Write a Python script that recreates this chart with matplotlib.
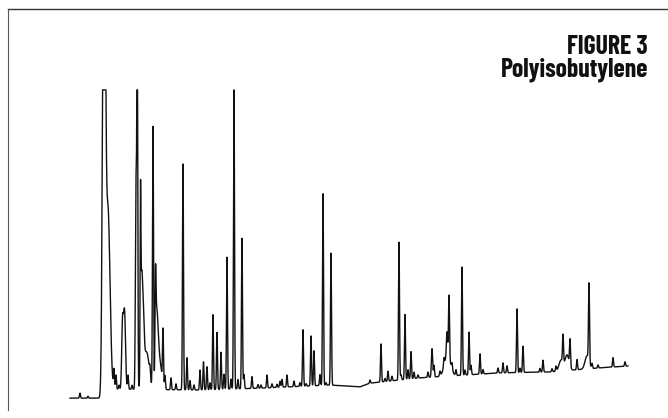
import matplotlib
matplotlib.use('Agg')
import matplotlib.pyplot as plt
from matplotlib.lines import Line2D
import numpy as np

# Peak table (retention time in min, height above baseline in % FS, width in min)
peak_time = [2.0, 2.8, 4.4, 4.8, 5.4, 5.6, 5.9, 6.25, 6.45, 6.8, 7.2, 7.6, 7.73, 8.05, 8.15, 8.3,
             8.5, 8.8, 9.0, 9.3, 9.55, 9.65, 9.8, 10.05, 10.3, 10.5, 11.1, 11.6, 12.3, 12.7, 13.0,
             13.4, 14.0, 14.35, 14.7, 15.0, 15.3, 15.7, 16.1, 16.4, 16.7, 17.1, 17.4, 17.8, 18.2,
             18.4, 19.2, 19.8, 20.1, 20.7, 21.2, 21.7, 22.0, 22.2, 22.7, 23.4, 24.0, 24.3, 24.6,
             25.1, 25.4, 26.0, 26.3, 26.6, 27.1, 31.0, 32.1, 32.5, 32.8, 33.2, 33.9, 34.1, 34.5,
             34.8, 35.1, 35.4, 35.8, 36.8, 37.2, 37.4, 38.0, 38.4, 38.75, 38.7, 38.9, 39.2, 39.6,
             40.2, 40.5, 40.9, 41.1, 42.0, 42.3, 43.8, 44.3, 44.7, 45.7, 46.0, 46.3, 48.0, 48.3,
             49.2, 49.6, 50.1, 50.3, 50.7, 51.0, 51.7, 52.7, 52.9, 53.2, 53.8, 55.3, 56.5]
peak_height = [1.6, 0.6, 200, 58, 6, 4.5, 1.3, 20, 25, 4.5, 1.3, 64, 110, 52, 26, 20,
               9, 6, 3, 84, 27, 18, 13, 7, 18, 4.5, 3.8, 1.9, 72.4, 10.3, 3,
               1.6, 6.4, 9, 7.4, 2.2, 24, 18.3, 11.9, 4.8, 42.3, 3.2, 97, 3, 48.2,
               4.5, 3.8, 1.2, 1.0, 4.1, 1.2, 1.0, 1.9, 2.5, 3.8, 1.8, 1.2, 18.1, 0.8,
               16, 11.2, 3.5, 61.4, 0.8, 42.3, 1.0, 12.2, 1.0, 3.2, 1.5, 44.2, 1.6, 20.8,
               3, 8.7, 2, 1, 1.7, 9.1, 3.7, 1.5, 2.6, 6.7, 7.6, 20, 2, 1.8,
               34.7, 1.6, 13.7, 3, 6.5, 1.4, 1.6, 3.2, 2.2, 20.4, 1.4, 8.4, 1.2, 3.8,
               1, 1.6, 3.5, 9, 5, 8.5, 3.3, 4.2, 25, 1.5, 1, 3, 1.4]
peak_width = [0.05, 0.05, 0.13, 0.2, 0.05, 0.05, 0.05, 0.08, 0.1, 0.05, 0.05, 0.06, 0.05, 0.04, 0.08, 0.1,
              0.25, 0.2, 0.05, 0.05, 0.05, 0.1, 0.12, 0.15, 0.05, 0.05, 0.05, 0.05, 0.05, 0.05, 0.05,
              0.05, 0.05, 0.05, 0.05, 0.05, 0.05, 0.05, 0.05, 0.05, 0.05, 0.05, 0.05, 0.05, 0.05,
              0.05, 0.05, 0.05, 0.05, 0.05, 0.05, 0.05, 0.05, 0.05, 0.05, 0.05, 0.05, 0.05, 0.05,
              0.05, 0.05, 0.05, 0.05, 0.05, 0.05, 0.05, 0.05, 0.05, 0.05, 0.05, 0.05, 0.05, 0.05,
              0.05, 0.05, 0.05, 0.05, 0.05, 0.06, 0.05, 0.05, 0.05, 0.3, 0.06, 0.05, 0.05, 0.05,
              0.05, 0.05, 0.05, 0.05, 0.05, 0.05, 0.05, 0.05, 0.05, 0.05, 0.05, 0.05, 0.05, 0.05,
              0.05, 0.05, 0.2, 0.05, 0.2, 0.05, 0.05, 0.2, 0.05, 0.05, 0.05, 0.05, 0.05]

# Baseline drift (min, % FS)
base_time = [1.0, 4.0, 5.0, 14.0, 20.0, 27.0, 30.0, 31.0, 36.0, 39.0, 44.0, 49.0, 54.0, 56.8]
base_level = [0.6, 0.6, 3.5, 3.2, 3.8, 4.8, 4.2, 5.4, 7.1, 7.7, 8.7, 9.0, 10.3, 10.9]

full_scale = 99.4

fig = plt.figure(figsize=(6.68, 4.18), dpi=100)
ax = fig.add_axes([0.0898, 0.04306, 0.8683, 0.7464])

t = np.arange(base_time[0], base_time[-1], 0.005)
signal = np.interp(t, base_time, base_level)
for tp, h, w in zip(peak_time, peak_height, peak_width):
    signal = signal + h * np.exp(-0.5 * ((t - tp) / w) ** 2)
signal = np.minimum(signal, full_scale)  # detector saturates

ax.plot(t, signal, color='#111111', lw=1.0)
ax.set_xlim(0, 58)
ax.set_ylim(0, 100)
ax.axis('off')

# border of the printed figure
fig.add_artist(Line2D([0.012, 1.0], [0.9785, 0.9785], transform=fig.transFigure, color='#333333', lw=1))
fig.add_artist(Line2D([0.012, 0.012], [0.9785, 0.019], transform=fig.transFigure, color='#555555', lw=0.8))

title_font = ['Barlow Condensed', 'Liberation Sans Narrow', 'DejaVu Sans']
fig.text(0.970, 0.871, 'FIGURE 3', ha='right', va='baseline', fontsize=18.5,
         fontweight='bold', family=title_font, color='#111111')
fig.text(0.970, 0.816, 'Polyisobutylene', ha='right', va='baseline', fontsize=18.5,
         fontweight='bold', family=title_font, color='#111111')

fig.savefig('out.png', dpi=100, facecolor='white')
